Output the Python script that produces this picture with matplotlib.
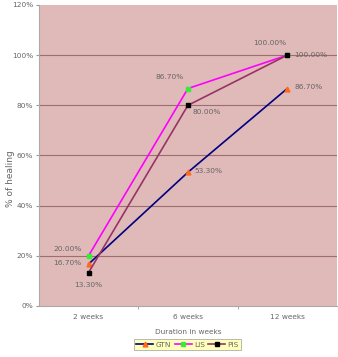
import matplotlib.pyplot as plt
import numpy as np

# データ
categories = ["2 weeks", "6 weeks", "12 weeks"]
gtn = [16.7, 53.3, 86.7]
lis = [20.0, 86.7, 100.0]
pis = [13.3, 80.0, 100.0]
y_ticks = [0, 20, 40, 60, 80, 100, 120]

txt_color = "#666666"

fig = plt.figure(figsize=(3.38, 3.57), dpi=100)
ax = fig.add_axes([0.115, 0.143, 0.882, 0.843])
ax.set_facecolor("#e0b9b9")

x = np.arange(len(categories))

# 罫線
for yt in y_ticks[1:-1]:
    ax.axhline(yt, color="#9c6e6e", linewidth=0.8, zorder=1)

ax.plot(x, gtn, color="#000080", linewidth=1.2, marker="^", markersize=3.5,
        markerfacecolor="#ff6a1a", markeredgecolor="#ff6a1a", label="GTN", zorder=3)
ax.plot(x, lis, color="#ff00ff", linewidth=1.2, marker="s", markersize=3,
        markerfacecolor="#33ee33", markeredgecolor="#33ee33", label="LIS", zorder=3)
ax.plot(x, pis, color="#993366", linewidth=1.2, marker="s", markersize=3,
        markerfacecolor="black", markeredgecolor="black", label="PIS", zorder=4)

# データラベル
fs = 5.3
def lab(xi, yi, dx, dy, ha="left", va="center"):
    ax.annotate(f"{yi:.2f}%", (xi, yi), xytext=(dx, dy), textcoords="offset points",
                ha=ha, va=va, fontsize=fs, color=txt_color, zorder=5)

lab(0, gtn[0], -5, 1, ha="right")
lab(1, gtn[1], 5, 1)
lab(2, gtn[2], 5, 1)
lab(0, lis[0], -5, 5, ha="right")
lab(1, lis[1], -3, 8, ha="right")
lab(2, lis[2], -1, 9, ha="right")
lab(0, pis[0], 0, -9, ha="center")
lab(1, pis[1], 3, -5)
lab(2, pis[2], 5, 0)

ax.set_xlim(-0.5, 2.5)
ax.set_ylim(0, 120)
ax.set_xticks(x)
ax.set_xticklabels(categories)
ax.set_xticks([0.5, 1.5], minor=True)
ax.tick_params(axis="x", which="major", length=0, labelsize=fs, colors=txt_color, pad=6)
ax.tick_params(axis="x", which="minor", length=2, color="#999999")
ax.set_yticks(y_ticks)
ax.set_yticklabels([f"{v}%" for v in y_ticks])
ax.tick_params(axis="y", length=2, labelsize=fs, colors=txt_color, pad=2, color="#999999")

for s in ["top", "right"]:
    ax.spines[s].set_visible(False)
for s in ["left", "bottom"]:
    ax.spines[s].set_color("#aaaaaa")
    ax.spines[s].set_linewidth(0.8)

fig.text(0.03, 0.5, "% of healing", rotation=90, fontsize=6.5, color="#666666",
         ha="center", va="center")
ax.set_xlabel("Duration in weeks", fontsize=5.3, color=txt_color, labelpad=6)

leg = fig.legend(loc="lower center", bbox_to_anchor=(0.555, 0.01), ncol=3, fontsize=5.3,
                 frameon=True, fancybox=False, handlelength=2.3, columnspacing=0.5,
                 handletextpad=0.3, borderpad=0.3)
leg.get_frame().set_facecolor("#ffffaa")
leg.get_frame().set_edgecolor("#999999")
leg.get_frame().set_linewidth(0.6)
for t in leg.get_texts():
    t.set_color(txt_color)

fig.savefig("out.png", dpi=100)
